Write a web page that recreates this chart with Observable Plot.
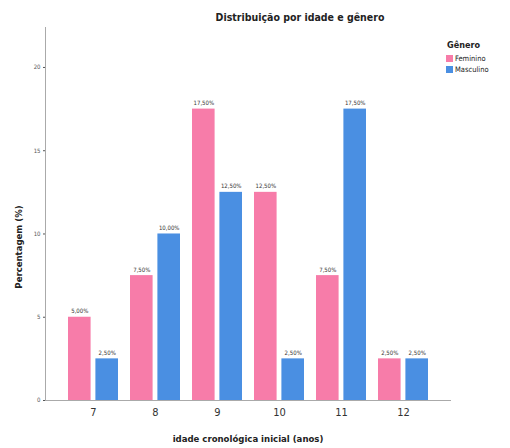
<!DOCTYPE html>
<html>
<head>
<meta charset="utf-8">
<script src="https://cdn.jsdelivr.net/npm/d3@7"></script>
<script src="https://cdn.jsdelivr.net/npm/@observablehq/plot@0.6"></script>
<style>
  body { margin: 0; background: #fff; }
  #chart { position: relative; width: 510px; height: 448px; font-family: "Liberation Sans Narrow", "DejaVu Sans Condensed", sans-serif; color: #222; }
  #chart svg { position: absolute; left: 0; top: 0; }
  .title { position: absolute; left: 300px; top: 11px; transform: translateX(-50%); font-size: 10.5px; font-weight: bold; white-space: nowrap; }
  .ylabel { position: absolute; left: 18px; top: 247px; transform: translate(-50%, -50%) rotate(-90deg); font-size: 9.5px; font-weight: bold; white-space: nowrap; }
  .legend { position: absolute; left: 446px; top: 40px; font-size: 7.5px; }
  .legend .head { font-size: 9px; font-weight: bold; margin: 0 0 3px 1px; }
  .legend .row { display: flex; align-items: center; height: 11px; }
  .legend .sw { width: 7px; height: 7px; margin-right: 2px; }
</style>
</head>
<body>
<div id="chart">
  <div class="title">Distribuição por idade e gênero</div>
</div>
<script>
// Idade cronológica inicial (anos)
const ages = ["7", "8", "9", "10", "11", "12"];
const genders = ["Feminino", "Masculino"];
const colors = ["#f77ca9", "#4a8fe2"];
// Percentagem por idade
const feminino = [5.0, 7.5, 17.5, 12.5, 7.5, 2.5];
const masculino = [2.5, 10.0, 12.5, 2.5, 17.5, 2.5];
const yTicks = [0, 5, 10, 15, 20];

const rows = [];
ages.forEach((a, i) => {
  rows.push({age: a, gender: genders[0], value: feminino[i]});
  rows.push({age: a, gender: genders[1], value: masculino[i]});
});
const fmt = v => v.toFixed(2).replace(".", ",") + "%";
const fem = rows.filter(d => d.gender === genders[0]);
const mas = rows.filter(d => d.gender === genders[1]);

const half = 27.4; // inset that splits each age band into two bars
const off = 13.7;  // label offset to the centre of each half

const plot = Plot.plot({
  width: 510,
  height: 448,
  marginLeft: 45,
  marginRight: 60,
  marginTop: 27,
  marginBottom: 48,
  style: {fontFamily: "'Liberation Sans Narrow', 'DejaVu Sans Condensed', sans-serif", color: "#222"},
  x: {domain: ages, paddingInner: 0.2, paddingOuter: 0.315, label: null},
  y: {domain: [0, 22.4], label: null},
  color: {domain: genders, range: colors},
  marks: [
    Plot.barY(fem, {x: "age", y: "value", fill: "gender", insetLeft: 0, insetRight: half}),
    Plot.barY(mas, {x: "age", y: "value", fill: "gender", insetLeft: half, insetRight: 0}),
    Plot.text(fem, {x: "age", y: "value", text: d => fmt(d.value), dx: -off, dy: -6, fontSize: 6, fill: "#333"}),
    Plot.text(mas, {x: "age", y: "value", text: d => fmt(d.value), dx: off, dy: -6, fontSize: 6, fill: "#333"}),
    Plot.frame({anchor: "left", stroke: "#aaa"}),
    Plot.frame({anchor: "bottom", stroke: "#aaa"}),
    Plot.axisY({ticks: yTicks, tickSize: 2, tickPadding: 3, fontSize: 6, color: "#555", label: null}),
    Plot.axisX({tickSize: 0, tickPadding: 8, fontSize: 11, color: "#333", label: null}),
    Plot.text(["idade cronológica inicial (anos)"], {frameAnchor: "bottom", dy: 41, fontSize: 9.5, fontWeight: "bold", fill: "#222"})
  ]
});
const chart = document.getElementById("chart");
chart.appendChild(plot);

// Y-axis title
const ylab = document.createElement("div");
ylab.className = "ylabel";
ylab.textContent = "Percentagem (%)";
chart.appendChild(ylab);

// Legend
const legend = document.createElement("div");
legend.className = "legend";
legend.innerHTML = `<div class="head">Gênero</div>` +
  genders.map((g, i) => `<div class="row"><span class="sw" style="background:${colors[i]}"></span>${g}</div>`).join("");
chart.appendChild(legend);
</script>
</body>
</html>
